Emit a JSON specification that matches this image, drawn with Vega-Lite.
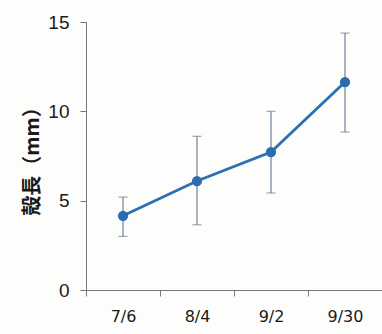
{
  "$schema": "https://vega.github.io/schema/vega-lite/v6.json",
  "autosize": "none",
  "width": 296,
  "height": 268,
  "padding": {"left": 86, "top": 22, "right": 0, "bottom": 44},
  "background": "#fdfdfb",
  "config": {"view": {"stroke": null}},
  "data": {"values": [
    {"date": "7/6", "mean": 4.15, "lo": 3.0, "hi": 5.2},
    {"date": "8/4", "mean": 6.1, "lo": 3.65, "hi": 8.6},
    {"date": "9/2", "mean": 7.72, "lo": 5.43, "hi": 10.0},
    {"date": "9/30", "mean": 11.64, "lo": 8.84, "hi": 14.38}
  ]},
  "encoding": {
    "x": {"field": "date", "type": "ordinal", "sort": null,
      "scale": {"paddingInner": 0, "paddingOuter": 0},
      "axis": {"title": null, "labelAngle": 0, "tickBand": "extent", "domainColor": "#777", "tickColor": "#777", "tickSize": 6,
        "labelFont": "DejaVu Sans", "labelFontSize": 16, "labelColor": "#1a1a1a", "labelPadding": 12}}
  },
  "layer": [
    {"mark": {"type": "rule", "color": "#6f8299", "strokeWidth": 1.2},
     "encoding": {"y": {"field": "lo", "type": "quantitative"}, "y2": {"field": "hi"}}},
    {"mark": {"type": "tick", "color": "#6f8299", "size": 9, "thickness": 1.2, "orient": "horizontal"},
     "encoding": {"y": {"field": "lo", "type": "quantitative"}}},
    {"mark": {"type": "tick", "color": "#6f8299", "size": 9, "thickness": 1.2, "orient": "horizontal"},
     "encoding": {"y": {"field": "hi", "type": "quantitative"}}},
    {"mark": {"type": "line", "color": "#2c70b4", "strokeWidth": 2.8, "point": {"filled": true, "size": 105, "color": "#2a6cb0", "opacity": 1}},
     "encoding": {"y": {"field": "mean", "type": "quantitative",
       "scale": {"domain": [0, 15], "nice": false},
       "axis": {"title": "殻長（mm）", "values": [0, 5, 10, 15], "grid": false, "domainColor": "#777", "tickColor": "#777", "tickSize": 6,
         "labelFont": "Liberation Sans", "labelFontSize": 19, "labelColor": "#1a1a1a", "labelPadding": 11,
         "titleFont": "Noto Sans CJK JP", "titleFontSize": 20, "titleFontWeight": "bold", "titleColor": "#1a1a1a",
         "titlePadding": 5}}}}
  ]
}
